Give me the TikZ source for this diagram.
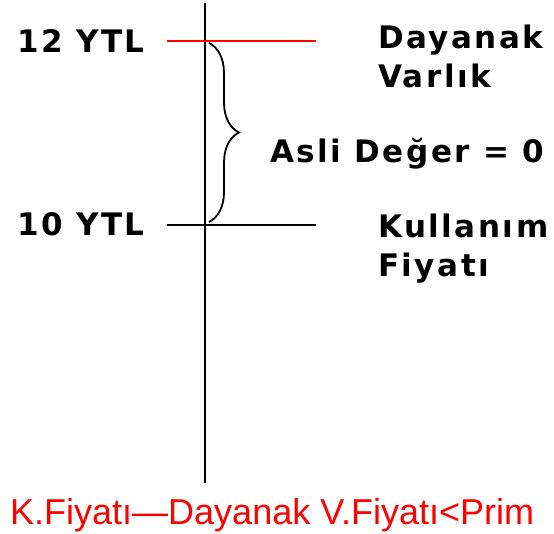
\documentclass[tikz,border=0pt]{standalone}
\usepackage{fontspec}
\usepackage{tikz}
\usetikzlibrary{decorations.pathreplacing}
\setmainfont{DejaVu Sans}
\newfontfamily\labelfont[LetterSpace=8]{DejaVu Sans}
\newfontfamily\notefont{Liberation Sans}
\definecolor{Price}{HTML}{FF0000}

\begin{document}
\begin{tikzpicture}[x=1pt,y=-1pt,
    lbl/.style={anchor=base west,inner sep=0pt,align=left,
      font=\labelfont\bfseries\fontsize{31}{39}\selectfont},
    level/.style={line width=2.5pt}]
      \useasboundingbox (0,0) rectangle (554,533);

      % price axis
      \coordinate (axtop) at (205,3);
      \coordinate (axbot) at (205,483);
      \draw[line width=2.5pt] (axtop) -- (axbot);

      % the two price levels
      \foreach \n/\yy/\col in {12/41/Price,10/225/black} {
        \coordinate (lv\n a) at (167,\yy);
        \coordinate (lv\n b) at (316,\yy);
        \draw[level,\col] (lv\n a) -- (lv\n b);
      }
      \node[lbl] (p12) at (17,52) {12 YTL};
      \node[lbl] (p10) at (17,235) {10 YTL};

      % base anchor sits on the last line here
      \node[lbl] (spot) at (378,87) {Dayanak\\Varlık};
      \node[lbl] (strike) at (378,276) {Kullanım\\Fiyatı};

      % intrinsic value brace
      \coordinate (brtop) at (209,43);
      \coordinate (brbot) at (209,222);
      \draw[line width=1.8pt,decorate,decoration={brace,amplitude=30pt}]
        (brtop) -- (brbot);
      \node[lbl] (intr) at (270,162) {Asli Değer = 0};

      \node[anchor=base west,inner sep=0pt,text=Price,
            font=\notefont\fontsize{36}{40}\selectfont] (rule) at (10,524)
        {K.Fiyatı—Dayanak V.Fiyatı<Prim};
    \end{tikzpicture}
\end{document}
